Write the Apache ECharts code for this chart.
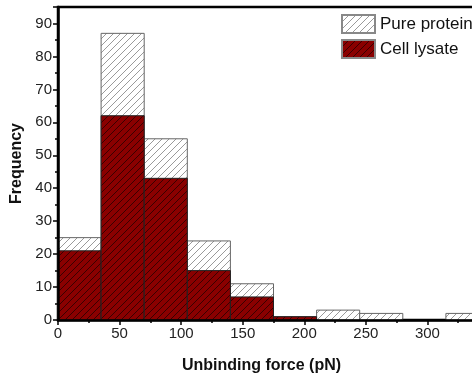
<!DOCTYPE html>
<html><head><meta charset="utf-8">
<script src="https://cdn.jsdelivr.net/npm/echarts@6/dist/echarts.min.js"></script>
<style>html,body{margin:0;padding:0;background:#fff}#c{width:472px;height:379px}</style>
</head><body><div id="c"></div>
<script>
const binStarts = [0, 35, 70, 105, 140, 175, 210, 245, 280, 315];
const binWidth = 35;
const purePro = [25, 87, 55, 24, 11, 1, 3, 2, 0, 2];
const cellLysate = [21, 62, 43, 15, 7, 1, 0, 0, 0, 0];
const yTicks = [0, 10, 20, 30, 40, 50, 60, 70, 80, 90];

function hatch(bg, line) {
  const s = 7, c = document.createElement('canvas');
  c.width = s; c.height = s;
  const g = c.getContext('2d');
  g.fillStyle = bg; g.fillRect(0, 0, s, s);
  g.strokeStyle = line; g.lineWidth = 1;
  g.beginPath();
  g.moveTo(0, s); g.lineTo(s, 0);
  g.moveTo(-1, 1); g.lineTo(1, -1);
  g.moveTo(s - 1, s + 1); g.lineTo(s + 1, s - 1);
  g.stroke();
  return { image: c, repeat: 'repeat' };
}
const pureFill = hatch('#ffffff', '#9a9a9a');
const lysFill = hatch('#8a0000', '#3a0000');

function mk(vals) {
  return binStarts.map((s, i) => [s, s + binWidth, vals[i]]).filter(d => d[2] > 0);
}
function render(fill, stroke) {
  return function (params, api) {
    const v = api.value(2);
    if (!(v > 0)) return null;
    const p0 = api.coord([api.value(0), v]);
    const p1 = api.coord([api.value(1), 0]);
    return {
      type: 'rect',
      shape: { x: p0[0], y: p0[1], width: p1[0] - p0[0], height: p1[1] - p0[1] },
      style: { fill: fill, stroke: stroke, lineWidth: 1 }
    };
  };
}

const chart = echarts.init(document.getElementById('c'), null, { renderer: 'canvas' });
chart.setOption({
  animation: false,
  grid: { left: 58, top: 7, bottom: 59, right: -17, outerBoundsMode: 'none', containLabel: false,
    show: true, borderColor: '#000', borderWidth: 2.5, backgroundColor: 'transparent' },
  legend: {
    orient: 'vertical', left: 339, top: 12, itemWidth: 33, itemHeight: 18, itemGap: 5, padding: 2,
    icon: 'rect',
    textStyle: { fontFamily: 'Liberation Sans, Arial', fontSize: 17, color: '#111' },
    data: ['Pure protein', 'Cell lysate']
  },
  xAxis: {
    type: 'value', min: 0, max: 350, interval: 50, z: 10,
    name: 'Unbinding force (pN)', nameLocation: 'middle', nameGap: 38,
    nameTextStyle: { fontFamily: 'Liberation Sans, Arial', fontSize: 16, fontWeight: 'bold', color: '#111', padding: [0, 24, 0, 0] },
    axisLine: { lineStyle: { color: '#000', width: 2.5 } },
    axisTick: { inside: false, length: 5, lineStyle: { color: '#000', width: 1.5 } },
    minorTick: { show: true, splitNumber: 2, length: 3, lineStyle: { color: '#000', width: 1.5 } },
    axisLabel: { fontFamily: 'Liberation Sans, Arial', fontSize: 15, color: '#222', margin: 6 },
    splitLine: { show: false }
  },
  yAxis: {
    type: 'value', min: 0, max: 95, interval: 10, z: 10,
    name: 'Frequency', nameLocation: 'middle', nameGap: 31,
    nameTextStyle: { fontFamily: 'Liberation Sans, Arial', fontSize: 16, fontWeight: 'bold', color: '#111' },
    axisLine: { show: true, lineStyle: { color: '#000', width: 2.5 } },
    axisTick: { show: true, inside: false, length: 5, lineStyle: { color: '#000', width: 1.5 } },
    minorTick: { show: true, splitNumber: 2, length: 3, lineStyle: { color: '#000', width: 1.5 } },
    axisLabel: { fontFamily: 'Liberation Sans, Arial', fontSize: 15, color: '#222', margin: 6, showMaxLabel: false,
      formatter: v => yTicks.indexOf(v) >= 0 ? String(v) : '' },
    splitLine: { show: false }
  },
  series: [
    { name: 'Pure protein', type: 'custom', renderItem: render(pureFill, '#666'),
      itemStyle: { color: pureFill, borderColor: '#888', borderWidth: 1 },
      encode: { x: [0, 1], y: 2 }, data: mk(purePro), z: 2 },
    { name: 'Cell lysate', type: 'custom', renderItem: render(lysFill, '#222'),
      itemStyle: { color: lysFill, borderColor: '#888', borderWidth: 1 },
      encode: { x: [0, 1], y: 2 }, data: mk(cellLysate), z: 3 }
  ]
});
</script></body></html>
